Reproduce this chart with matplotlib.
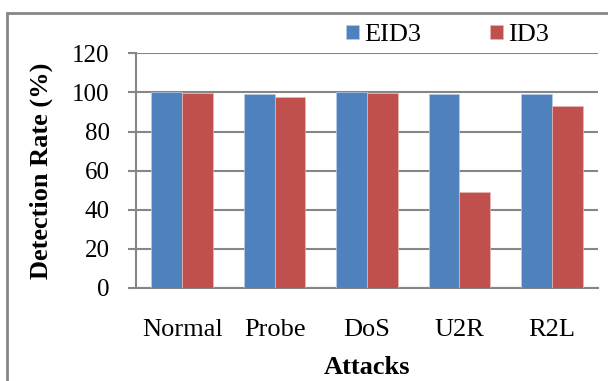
import numpy as np
import matplotlib.pyplot as plt
from matplotlib.patches import Rectangle

# дані
attacks = ["Normal", "Probe", "DoS", "U2R", "R2L"]
eid3 = [100, 99.3, 100, 99.3, 99.3]
id3 = [99.9, 97.9, 99.5, 49.1, 92.8]

plt.rcParams["font.family"] = ["Liberation Serif", "DejaVu Serif"]

fig = plt.figure(figsize=(6.08, 3.81), dpi=100)
ax = fig.add_axes([136 / 608, 1 - 288 / 381, (598 - 136) / 608, (288 - 53.3) / 381])

x = np.arange(len(attacks))
w = 1 / 3
ax.bar(x - w / 2, eid3, w, color="#4F81BD", edgecolor="#B9CDE5", linewidth=0.5,
       label="EID3", zorder=3)
ax.bar(x + w / 2, id3, w, color="#C0504D", edgecolor="#E6B9B8", linewidth=0.5,
       label="ID3", zorder=3)

ax.set_xlim(-0.5, len(attacks) - 0.5)
ax.set_ylim(0, 120)
ax.set_yticks(range(0, 121, 20))
ax.set_xticks(x)
ax.set_xticklabels(attacks)
ax.tick_params(axis="y", labelsize=18, length=6, width=1.5, color="#868686", pad=13)
ax.tick_params(axis="x", labelsize=19, length=0, pad=22)
ax.grid(axis="y", color="#868686", linewidth=1.5, zorder=0)
for s in ["top", "right"]:
    ax.spines[s].set_visible(False)
for s in ["left", "bottom"]:
    ax.spines[s].set_color("#868686")
    ax.spines[s].set_linewidth(1.5)

ax.set_xlabel("Attacks", fontsize=19, fontweight="bold", labelpad=11)
ax.set_ylabel("Detection Rate (%)", fontsize=19, fontweight="bold", labelpad=14)

fig.legend(loc="center left", bbox_to_anchor=(346 / 608, 1 - 35 / 381),
           ncol=2, frameon=False, fontsize=19, borderpad=0, borderaxespad=0,
           handlelength=0.5, handleheight=0.45, handletextpad=0.2,
           columnspacing=2.6)

# рамка навколо графіка
fig.patches.append(Rectangle((7 / 608, -0.1), 1.1, 1 - 13 / 381 + 0.1,
                             transform=fig.transFigure, fill=False,
                             edgecolor="#868686", linewidth=2))

fig.savefig("out.png", dpi=100)
